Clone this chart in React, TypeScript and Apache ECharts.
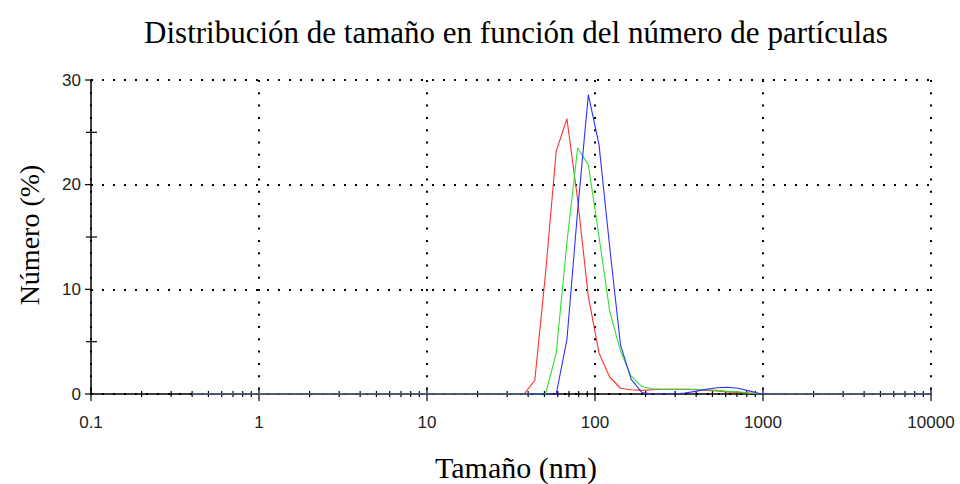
import React, { useEffect, useRef } from "react";
import * as echarts from "echarts";

// Size classes (nm)
const sizes = [
  0.4, 0.4632, 0.5365, 0.6213, 0.7195, 0.8332, 0.9649, 1.117, 1.294, 1.499,
  1.736, 2.01, 2.328, 2.696, 3.122, 3.615, 4.187, 4.849, 5.615, 6.503,
  7.531, 8.721, 10.1, 11.7, 13.54, 15.69, 18.17, 21.04, 24.36, 28.21,
  32.67, 37.84, 43.82, 50.75, 58.77, 68.06, 78.82, 91.28, 105.7, 122.4,
  141.8, 164.2, 190.1, 220.2, 255, 295.3, 342, 396.1, 458.7, 531.2,
  615.1, 712.4, 825, 955.4, 1106, 1281, 1484, 1718, 1990, 2305,
  2669, 3091, 3580, 4145, 4801, 5560, 6439, 7456, 8635, 10000,
];

// Number distribution (%)
const redValues = [
  0, 0, 0, 0, 0, 0, 0, 0, 0, 0,
  0, 0, 0, 0, 0, 0, 0, 0, 0, 0,
  0, 0, 0, 0, 0, 0, 0, 0, 0, 0,
  0, 0, 1.3, 11.5, 23.2, 26.3, 18.6, 9.3, 3.9, 1.6,
  0.55, 0.4, 0.35, 0.4, 0.45, 0.45, 0.45, 0.4, 0.35, 0.3,
  0.2, 0.15, 0.08, 0.02, 0, 0, 0, 0, 0, 0,
  0, 0, 0, 0, 0, 0, 0, 0, 0, 0,
];
const greenValues = [
  0, 0, 0, 0, 0, 0, 0, 0, 0, 0,
  0, 0, 0, 0, 0, 0, 0, 0, 0, 0,
  0, 0, 0, 0, 0, 0, 0, 0, 0, 0,
  0, 0, 0, 0, 3.9, 14.5, 23.5, 21.9, 15.0, 7.9,
  4.1, 1.7, 0.7, 0.5, 0.45, 0.45, 0.45, 0.45, 0.4, 0.35,
  0.25, 0.2, 0.1, 0.03, 0, 0, 0, 0, 0, 0,
  0, 0, 0, 0, 0, 0, 0, 0, 0, 0,
];
const blueValues = [
  0, 0, 0, 0, 0, 0, 0, 0, 0, 0,
  0, 0, 0, 0, 0, 0, 0, 0, 0, 0,
  0, 0, 0, 0, 0, 0, 0, 0, 0, 0,
  0, 0, 0, 0, 0, 5.2, 17.5, 28.6, 23.8, 14.0,
  4.7, 1.4, 0.15, 0, 0, 0, 0.1, 0.25, 0.45, 0.6,
  0.65, 0.55, 0.3, 0.05, 0, 0, 0, 0, 0, 0,
  0, 0, 0, 0, 0, 0, 0, 0, 0, 0,
];

const xTickLabels = ["0.1", "1", "10", "100", "1000", "10000"];
const yTickLabels = ["0", "10", "20", "30"];
const yMinorTicks = [5, 15, 25];

const titleText = "Distribución de tamaño en función del número de partículas";
const xName = "Tamaño (nm)";
const yName = "Número (%)";

export default function App() {
  const ref = useRef<HTMLDivElement>(null);

  useEffect(() => {
    if (!ref.current) return;
    const chart = echarts.init(ref.current, undefined, { renderer: "svg" });

    const xMajor = xTickLabels.map((s) => Number(s));
    const xMinor: number[] = [];
    for (let d = 0; d < xMajor.length - 1; d++) {
      for (let k = 2; k <= 9; k++) xMinor.push(xMajor[d] * k);
    }
    const yMajor = yTickLabels.map((s) => Number(s));

    const tickData: any[] = [];
    xMajor.forEach((v) => tickData.push([v, 0, "xM"]));
    xMinor.forEach((v) => tickData.push([v, 0, "xm"]));
    yMajor.forEach((v) => tickData.push([0.1, v, "yM"]));
    yMinorTicks.forEach((v) => tickData.push([0.1, v, "ym"]));

    const lineSeries = (name: string, vals: number[], color: string) => ({
      name,
      type: "line",
      data: sizes.map((s, i) => [s, vals[i]]),
      showSymbol: false,
      symbol: "none",
      lineStyle: { color, width: 1.1 },
      z: 3,
    });

    const serif = "'Liberation Serif', 'Times New Roman', serif";
    const sans = "'Liberation Sans', Arial, sans-serif";

    chart.setOption({
      animation: false,
      grid: { left: 91, right: 29, top: 80, bottom: 90, containLabel: false, outerBoundsMode: "none" },
      graphic: [
        {
          type: "text",
          x: 516,
          y: 32,
          style: {
            text: titleText,
            fontFamily: serif,
            fontSize: 31,
            fill: "#000",
            textAlign: "center",
            textVerticalAlign: "middle",
          },
        },
        {
          type: "text",
          x: 29,
          y: 235,
          rotation: Math.PI / 2,
          style: {
            text: yName,
            fontFamily: serif,
            fontSize: 28,
            fill: "#000",
            textAlign: "center",
            textVerticalAlign: "middle",
          },
        },
        {
          type: "text",
          x: 516,
          y: 467,
          style: {
            text: xName,
            fontFamily: serif,
            fontSize: 30,
            fill: "#000",
            textAlign: "center",
            textVerticalAlign: "middle",
          },
        },
      ],
      xAxis: {
        type: "log",
        logBase: 10,
        min: 0.1,
        max: 10000,
        axisLine: { show: true, lineStyle: { color: "#000", width: 1.5 } },
        axisTick: { show: false },
        splitLine: { show: true, lineStyle: { color: "#000", width: 2, type: [2, 10.3] } },
        axisLabel: {
          margin: 20,
          fontFamily: sans,
          fontSize: 17,
          color: "#222",
          formatter: (v: number) => {
            const idx = Math.round(Math.log10(v)) + 1;
            return xTickLabels[idx] ?? "";
          },
        },
      },
      yAxis: {
        type: "value",
        min: 0,
        max: 30,
        interval: 10,
        axisLine: { show: true, lineStyle: { color: "#000", width: 1.5 } },
        axisTick: { show: false },
        splitLine: { show: true, lineStyle: { color: "#000", width: 2, type: [2, 9] } },
        axisLabel: {
          margin: 10,
          fontFamily: sans,
          fontSize: 17,
          color: "#222",
          formatter: (v: number) => {
            const idx = yMajor.indexOf(Math.round(v));
            return idx >= 0 ? yTickLabels[idx] : "";
          },
        },
      },
      series: [
        lineSeries("red", redValues, "#ff3030"),
        lineSeries("green", greenValues, "#2ee02e"),
        lineSeries("blue", blueValues, "#3030ff"),
        {
          type: "custom",
          data: tickData,
          clip: false,
          z: 2,
          silent: true,
          renderItem: (params: any, api: any) => {
            const kind = api.value(2);
            const p = api.coord([api.value(0), api.value(1)]);
            let shape;
            if (kind === "xM") shape = { x1: p[0], y1: p[1] - 6, x2: p[0], y2: p[1] + 7 };
            else if (kind === "xm") shape = { x1: p[0], y1: p[1] - 3, x2: p[0], y2: p[1] + 3 };
            else if (kind === "yM") shape = { x1: p[0] - 6, y1: p[1], x2: p[0], y2: p[1] };
            else shape = { x1: p[0] - 5, y1: p[1], x2: p[0] + 6, y2: p[1] };
            return {
              type: "line",
              shape,
              style: { stroke: "#000", lineWidth: 1.2 },
            };
          },
        },
      ],
    });

    return () => chart.dispose();
  }, []);

  return (
    <div
      ref={ref}
      style={{ position: "absolute", left: 0, top: 0, width: 960, height: 484 }}
    />
  );
}
